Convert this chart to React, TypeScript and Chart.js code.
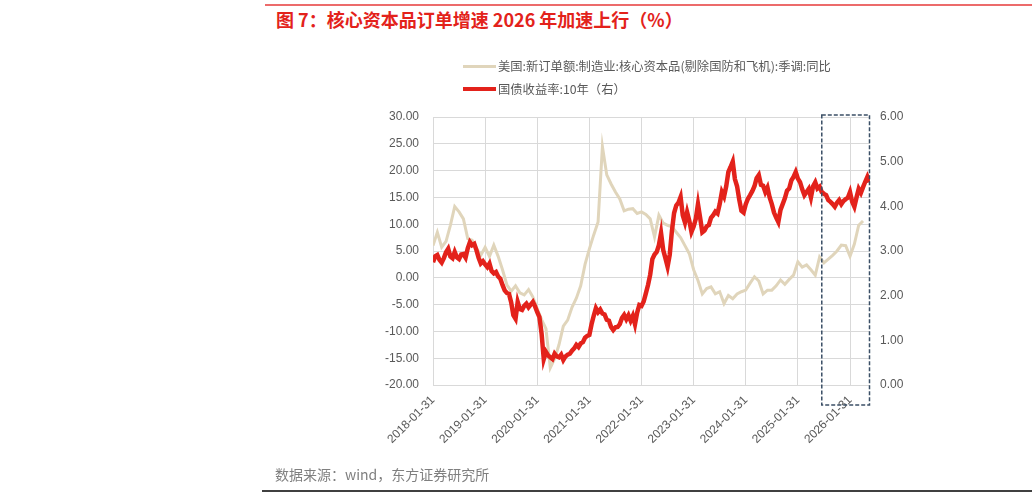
import React, { useEffect, useRef } from "react";
import { Chart, registerables } from "chart.js";

Chart.register(...registerables);

// ---- Data ----
const START_YEAR = 2018;
// x axis positions are month indexes counted from 2018-01
const xTickMonths = [0, 12, 24, 36, 48, 60, 72, 84, 96];

// 美国:新订单额:制造业:核心资本品(剔除国防和飞机):季调:同比 — monthly from 2018-01
const coreCapexOrdersYoY = [
  6.0, 8.5, 5.7, 6.8, 9.8, 13.3, 12.3, 11.0, 7.3, 7.0, 5.5, 4.2,
  5.7, 4.0, 6.1, 4.0, 1.5, -1.3, -2.5, -1.5, -2.8, -3.2, -2.2, -3.6,
  -5.8, -7.8, -9.5, -16.8, -15.1, -12.5, -9.0, -7.9, -5.5, -3.8, -1.5, 2.5,
  5.4, 8.0, 10.4, 24.5, 19.2, 17.5, 16.0, 14.7, 12.5, 12.8, 12.9, 12.0,
  12.3, 11.8, 11.0, 7.6, 11.7, 10.2, 9.8, 9.5, 8.5, 7.5, 6.0, 4.5,
  1.5, -0.5, -3.0, -2.0, -1.7, -3.0, -2.6, -4.8, -3.3, -3.9, -3.0, -2.6,
  -2.3, -1.0, 0.2, -0.6, -3.0, -2.3, -2.3, -1.5, -0.4, -1.2, -0.3, 0.5,
  3.0, 2.0, 2.4, 1.5, 0.5, 3.9, 2.8, 3.5, 4.2, 5.0, 6.1, 6.0,
  4.0, 6.3, 9.8, 10.6,
];

// 国债收益率:10年 (右) — twice a month from 2018-01
const treasury10Y = [
  2.75, 2.88, 2.91, 2.8, 2.74, 2.84, 2.97, 3.05, 2.88, 2.84, 2.98, 2.86,
  2.82, 2.92, 2.93, 2.85, 3.06, 3.2, 3.13, 3.16, 3.02, 2.85, 2.72, 2.77,
  2.7, 2.64, 2.72, 2.55, 2.5, 2.53, 2.43, 2.38, 2.24, 2.12, 2.06, 2.04,
  1.85, 1.56, 1.48, 1.86, 1.7, 1.68, 1.77, 1.82, 1.74, 1.8, 1.86, 1.76,
  1.63, 1.52, 1.15, 0.58, 0.74, 0.66, 0.62, 0.58, 0.7, 0.64, 0.62, 0.68,
  0.56, 0.64, 0.68, 0.7, 0.77, 0.82, 0.9, 0.85, 0.93, 0.96, 1.06, 1.1,
  1.12, 1.36, 1.55, 1.72, 1.63, 1.69, 1.6, 1.58, 1.46, 1.44, 1.3, 1.23,
  1.29, 1.3, 1.36, 1.5, 1.57, 1.47, 1.56, 1.44, 1.55, 1.36, 1.62, 1.79,
  1.77, 1.87, 2.05, 2.24, 2.47, 2.82, 2.92, 2.98, 3.13, 3.4, 3.02, 2.84,
  2.65, 2.92, 3.45, 3.85, 4.02, 4.08, 4.21, 3.8, 3.64, 3.87, 3.68, 3.43,
  3.55, 3.72, 4.05, 3.74, 3.42, 3.46, 3.55, 3.58, 3.74, 3.8, 3.88, 3.84,
  4.05, 4.32, 4.22, 4.45, 4.77, 4.88, 5.0, 4.61, 4.45, 4.15, 3.9, 3.86,
  4.05, 4.17, 4.25, 4.34, 4.45, 4.63, 4.7, 4.48, 4.46, 4.32, 4.42, 4.2,
  4.05, 3.86, 3.75, 3.65, 3.92, 4.05, 4.18, 4.35, 4.4, 4.58, 4.66, 4.77,
  4.62, 4.54, 4.38, 4.25, 4.32, 4.39, 4.2, 4.45, 4.54, 4.4, 4.44, 4.32,
  4.28, 4.25, 4.14, 4.1, 4.05, 3.99, 4.08, 4.14, 4.05, 4.12, 4.16, 4.19,
  4.32, 4.1, 3.99, 4.2, 4.39, 4.3, 4.43, 4.55, 4.66, 4.54,
];

const X_MAX_MONTH = 100.6;
const HIGHLIGHT_FROM_MONTH = 89.5;

const TITLE = "图 7：核心资本品订单增速 2026 年加速上行（%）";
const SERIES_NAMES = [
  "美国:新订单额:制造业:核心资本品(剔除国防和飞机):季调:同比",
  "国债收益率:10年（右）",
];
const SOURCE = "数据来源：wind，东方证券研究所";

const BEIGE = "#e0d5bb";
const RED = "#e3221b";
const GRID = "#d9d9d9";
const TICK_COLOR = "#595959";
const FONT = "'Liberation Sans', Arial, 'Noto Sans CJK SC', sans-serif";
const CJK_FONT = "'Noto Sans CJK SC', 'Liberation Sans', sans-serif";

const highlightBox = {
  id: "highlightBox",
  afterDraw(chart: any) {
    const { ctx, chartArea, scales } = chart;
    const x0 = scales.x.getPixelForValue(HIGHLIGHT_FROM_MONTH);
    const x1 = chartArea.right - 0.5;
    const y0 = chartArea.top - 2;
    const y1 = chartArea.bottom + 20;
    ctx.save();
    ctx.setLineDash([4, 2]);
    ctx.lineWidth = 1.5;
    ctx.strokeStyle = "#3b4f66";
    ctx.strokeRect(x0, y0, x1 - x0, y1 - y0);
    ctx.restore();
  },
};

export default function App() {
  const canvasRef = useRef<HTMLCanvasElement | null>(null);

  useEffect(() => {
    const canvas = canvasRef.current;
    if (!canvas) return;
    const beigePts = coreCapexOrdersYoY.map((v, i) => ({ x: i, y: v }));
    const redPts = treasury10Y.map((v, i) => ({ x: i / 2, y: v }));

    const chart = new Chart(canvas, {
      type: "line",
      data: {
        datasets: [
          {
            label: SERIES_NAMES[1],
            data: redPts,
            yAxisID: "y1",
            borderColor: RED,
            borderWidth: 4.5,
            pointRadius: 0,
            tension: 0,
            order: 0,
          },
          {
            label: SERIES_NAMES[0],
            data: beigePts,
            yAxisID: "y",
            borderColor: BEIGE,
            borderWidth: 3,
            pointRadius: 0,
            tension: 0,
            order: 1,
          },
        ],
      },
      options: {
        responsive: false,
        animation: false,
        layout: { padding: { top: 117, left: 0, right: 0, bottom: 0 } },
        plugins: {
          legend: { display: false },
          tooltip: { enabled: false },
          title: { display: false },
        },
        scales: {
          x: {
            type: "linear",
            min: 0,
            max: X_MAX_MONTH,
            afterBuildTicks: (scale: any) => {
              scale.ticks = xTickMonths.map((v) => ({ value: v }));
            },
            afterFit: (scale: any) => {
              scale.height = 113;
            },
            grid: { color: GRID, lineWidth: 1, drawTicks: false },
            border: { display: false },
            ticks: {
              autoSkip: false,
              minRotation: 45,
              maxRotation: 45,
              padding: 8,
              color: TICK_COLOR,
              font: { family: FONT, size: 12 },
              callback: (v: any) => `${START_YEAR + Math.round(Number(v) / 12)}-01-31`,
            },
          },
          y: {
            position: "left",
            min: -20,
            max: 30,
            afterFit: (scale: any) => {
              scale.width = 433;
            },
            grid: { color: GRID, lineWidth: 1, drawTicks: false },
            border: { color: GRID, width: 1 },
            ticks: {
              stepSize: 5,
              padding: 14,
              color: TICK_COLOR,
              font: { family: FONT, size: 12 },
              callback: (v: any) => Number(v).toFixed(2),
            },
          },
          y1: {
            position: "right",
            min: 0,
            max: 6,
            afterFit: (scale: any) => {
              scale.width = 1032 - 870;
            },
            grid: { display: false, drawTicks: false },
            border: { display: false },
            ticks: {
              stepSize: 1,
              padding: 10,
              color: TICK_COLOR,
              font: { family: FONT, size: 12 },
              callback: (v: any) => Number(v).toFixed(2),
            },
          },
        },
      },
      plugins: [highlightBox],
    } as any);

    return () => chart.destroy();
  }, []);

  const legendRow = (color: string, thick: number, text: string, top: number) => (
    <div style={{ position: "absolute", left: 463, top: top - 9, height: 18, display: "flex", alignItems: "center" }}>
      <div style={{ width: 33, height: thick, background: color, marginRight: 2 }} />
      <span style={{ fontFamily: CJK_FONT, fontSize: 12.3, color: TICK_COLOR, whiteSpace: "nowrap" }}>{text}</span>
    </div>
  );

  return (
    <div style={{ position: "absolute", left: 0, top: 0, width: 1032, height: 498, background: "#fff", overflow: "hidden" }}>
      <div style={{ position: "absolute", left: 265, right: 0, top: 4, height: 2, background: "#ec6b6b" }} />
      <div
        style={{
          position: "absolute",
          left: 276,
          top: 7,
          fontFamily: CJK_FONT,
          fontSize: 18,
          fontWeight: 700,
          color: "#e3221b",
          whiteSpace: "nowrap",
          lineHeight: "24px",
        }}
      >
        {TITLE}
      </div>
      <canvas ref={canvasRef} width={1032} height={498} style={{ position: "absolute", left: 0, top: 0 }} />
      {legendRow(BEIGE, 3, SERIES_NAMES[0], 66)}
      {legendRow(RED, 4, SERIES_NAMES[1], 89)}
      <div
        style={{
          position: "absolute",
          left: 275,
          top: 463,
          fontFamily: CJK_FONT,
          fontSize: 14,
          color: "#7f7f7f",
          whiteSpace: "nowrap",
          lineHeight: "22px",
        }}
      >
        {SOURCE}
      </div>
      <div style={{ position: "absolute", left: 262, right: 0, top: 490, height: 1.5, background: "#404040" }} />
    </div>
  );
}
